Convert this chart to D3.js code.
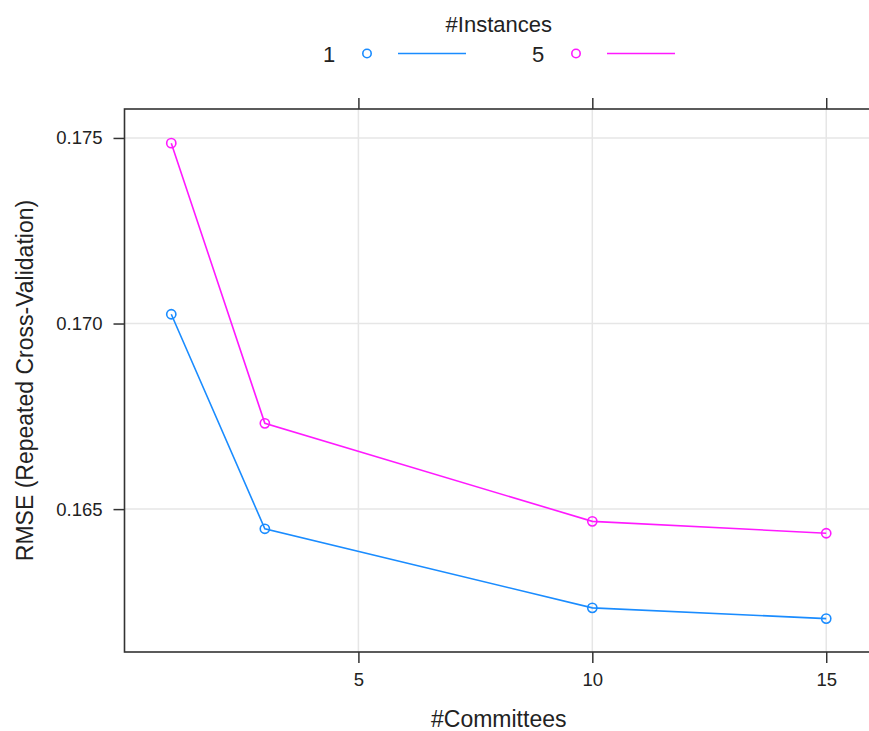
<!DOCTYPE html>
<html>
<head>
<meta charset="utf-8">
<script src="https://cdn.jsdelivr.net/npm/d3@7"></script>
<style>
  html, body { margin: 0; padding: 0; background: #fff; }
  svg { display: block; font-family: "Liberation Sans", Arial, Helvetica, sans-serif; }
</style>
</head>
<body>
<svg id="chart" width="869" height="731"></svg>
<script>
// Number of committees tried during tuning
const committees = [1, 3, 10, 15];
// RMSE per committee count, one series per #instances setting
const rmseInstances1 = [0.17025, 0.16447, 0.16234, 0.16205];
const rmseInstances5 = [0.17486, 0.16731, 0.16467, 0.16435];
const seriesNames = ["1", "5"];
const seriesColors = ["#1a8cff", "#ff1aff"];
const xTickValues = [5, 10, 15];
const yTickValues = [0.165, 0.170, 0.175];

const series = [
  { name: seriesNames[0], color: seriesColors[0], values: rmseInstances1 },
  { name: seriesNames[1], color: seriesColors[1], values: rmseInstances5 }
];

const svg = d3.select("#chart");
const panel = { left: 124.5, top: 109, right: 873, bottom: 652 };

const x = d3.scaleLinear().domain([0, 16]).range([panel.left, panel.right]);
const y = d3.scaleLinear().domain([0.16115, 0.17578]).range([panel.bottom, panel.top]);

// Reference grid
const grid = svg.append("g").attr("stroke", "#e6e6e6").attr("stroke-width", 1.5);
grid.selectAll("line.gy").data(yTickValues).join("line")
  .attr("x1", panel.left).attr("x2", panel.right)
  .attr("y1", d => y(d)).attr("y2", d => y(d));
grid.selectAll("line.gx").data(xTickValues).join("line")
  .attr("y1", panel.top).attr("y2", panel.bottom)
  .attr("x1", d => x(d)).attr("x2", d => x(d));

// Axes (ticks outside the panel, labels on left and bottom only)
const tickLen = 11;
const styleAxis = g => {
  g.select(".domain").remove();
  g.selectAll(".tick line").attr("stroke", "#333").attr("stroke-width", 1.5);
  g.selectAll(".tick text").attr("fill", "#222").attr("font-size", "18.5px");
};

svg.append("g")
  .attr("transform", `translate(0,${panel.bottom})`)
  .call(d3.axisBottom(x).tickValues(xTickValues).tickFormat(d3.format("d"))
    .tickSizeInner(tickLen).tickSizeOuter(0).tickPadding(10))
  .call(styleAxis);

svg.append("g")
  .attr("transform", `translate(0,${panel.top})`)
  .call(d3.axisTop(x).tickValues(xTickValues).tickFormat("")
    .tickSizeInner(tickLen).tickSizeOuter(0))
  .call(styleAxis);

svg.append("g")
  .attr("transform", `translate(${panel.left},0)`)
  .call(d3.axisLeft(y).tickValues(yTickValues).tickFormat(d3.format(".3f"))
    .tickSizeInner(tickLen).tickSizeOuter(0).tickPadding(11))
  .call(styleAxis);

// Panel border
svg.append("rect")
  .attr("x", panel.left).attr("y", panel.top)
  .attr("width", panel.right - panel.left).attr("height", panel.bottom - panel.top)
  .attr("fill", "none").attr("stroke", "#333").attr("stroke-width", 1.6);

// Series lines and open-circle markers
const line = d3.line().x((d, i) => x(committees[i])).y(d => y(d));
const sg = svg.append("g").selectAll("g").data(series).join("g");
sg.append("path")
  .attr("d", d => line(d.values))
  .attr("fill", "none").attr("stroke", d => d.color).attr("stroke-width", 1.6);
sg.selectAll("circle").data(d => d.values.map((v, i) => ({ v, i, color: d.color }))).join("circle")
  .attr("cx", d => x(committees[d.i])).attr("cy", d => y(d.v)).attr("r", 4.6)
  .attr("fill", "none").attr("stroke", d => d.color).attr("stroke-width", 1.6);

// Axis titles
svg.append("text")
  .attr("x", (panel.left + panel.right) / 2).attr("y", 727)
  .attr("text-anchor", "middle").attr("font-size", "23px").attr("fill", "#222")
  .text("#Committees");

svg.append("text")
  .attr("transform", `translate(33,${(panel.top + panel.bottom) / 2}) rotate(-90)`)
  .attr("text-anchor", "middle").attr("font-size", "23px").attr("fill", "#222")
  .text("RMSE (Repeated Cross-Validation)");

// Legend
const legendCx = (panel.left + panel.right) / 2;
svg.append("text")
  .attr("x", legendCx).attr("y", 32)
  .attr("text-anchor", "middle").attr("font-size", "22px").attr("fill", "#222")
  .text("#Instances");

const legendX = d3.scalePoint().domain(seriesNames).range([323, 532]);
const lg = svg.append("g").selectAll("g").data(series).join("g")
  .attr("transform", d => `translate(${legendX(d.name)},0)`);
lg.append("text")
  .attr("x", 0).attr("y", 61.5).attr("font-size", "22px").attr("fill", "#222")
  .text(d => d.name);
lg.append("circle")
  .attr("cx", 44).attr("cy", 53.5).attr("r", 4.2)
  .attr("fill", "none").attr("stroke", d => d.color).attr("stroke-width", 1.6);
lg.append("line")
  .attr("x1", 75).attr("x2", 143).attr("y1", 53.5).attr("y2", 53.5)
  .attr("stroke", d => d.color).attr("stroke-width", 1.6);
</script>
</body>
</html>
